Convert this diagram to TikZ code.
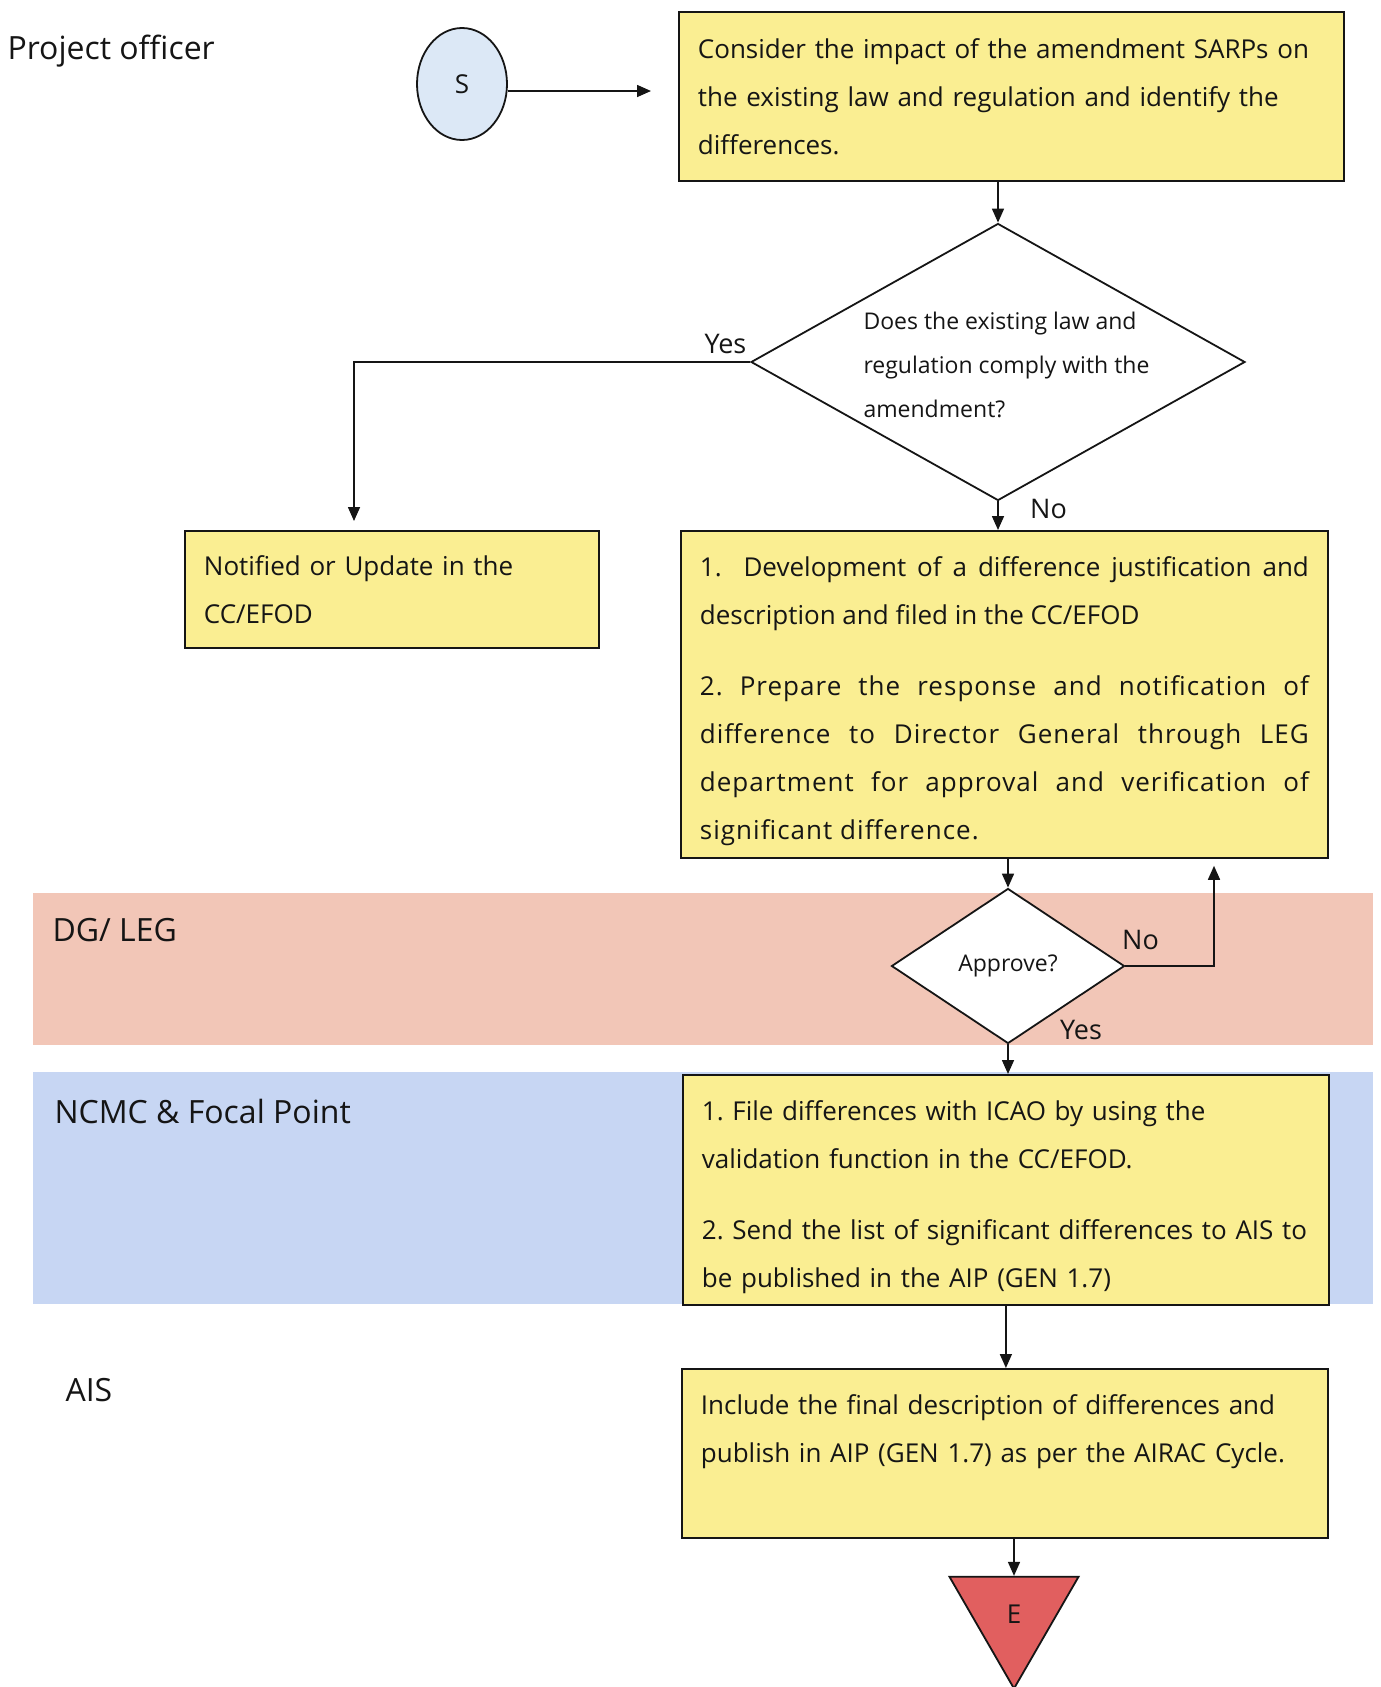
\documentclass[tikz,border=0pt]{standalone}
\usepackage{fontspec}
\setmainfont{Open Sans}
\usetikzlibrary{arrows.meta,positioning,shapes.geometric,calc}
\definecolor{ink}{HTML}{151515}
\definecolor{boxy}{HTML}{FAEE92}
\definecolor{startc}{HTML}{DCE8F6}
\definecolor{dgband}{HTML}{F2C6B7}
\definecolor{ncband}{HTML}{C7D6F3}
\definecolor{endc}{HTML}{E15F5F}
\newcommand{\boxfont}{\fontsize{26}{48}\selectfont\frenchspacing}
\newcommand{\qfont}{\fontsize{23}{44}\selectfont}

\begin{document}
\begin{tikzpicture}[
  x=1pt, y=-1pt, text=ink, >={Triangle[length=14pt,width=12pt]},
  box/.style={draw=ink, line width=1.8pt, fill=boxy, anchor=north west, inner xsep=19pt, inner ysep=0pt, font=\boxfont, align=left},
  decide/.style={diamond, draw=ink, line width=1.8pt, fill=white, inner sep=0pt, font=\qfont},
  flow/.style={->, draw=ink, line width=1.6pt},
  lane/.style={anchor=west, font=\fontsize{32}{36}\selectfont},
  lab/.style={font=\fontsize{27}{30}\selectfont}
]
\useasboundingbox (0,0) rectangle (1381,1687);

% ---- lanes
\fill[dgband] (33,893) rectangle (1373,1045);
\fill[ncband] (33,1072) rectangle (1373,1304);
\node[lane] (lpo) at (4,51) {Project officer};
\node[lane] (ldg) at (49,930) {DG/ LEG};
\node[lane] (lnc) at (51,1111) {NCMC \& Focal Point};
\node[lane] (lais) at (62,1390) {AIS};

% ---- project officer
\node[ellipse, draw=ink, line width=1.8pt, fill=startc, minimum width=90pt, minimum height=112pt, font=\fontsize{26}{28}\selectfont] (s) at (462,84) {S};
\node[box, minimum width=665pt, minimum height=169pt, text width=627pt] (chk) at (678,11)
  {Consider the impact of the amendment SARPs on\\the existing law and regulation and identify the\\differences.};
\node[decide, minimum width=494pt, minimum height=277pt] (q1) at (998,362) {};
\node[font=\qfont, align=left, anchor=west] (q1t) at (860,365)
  {Does the existing law and\\regulation comply with the\\amendment?};
\node[box, minimum width=414pt, minimum height=117pt, text width=376pt] (upd) at (184,530)
  {Notified or Update in the\\CC/EFOD};
\node[box, align=justify, minimum width=647pt, minimum height=327pt, text width=609pt, text height=34pt] (dev) at (680,530)
  {1.\ \ Development of a difference justification and\linebreak description and filed in the CC/EFOD\par\vspace{23pt}{\addfontfeature{LetterSpace=4}2. Prepare the response and notification of\linebreak difference to Director General through LEG\linebreak department for approval and verification of\linebreak significant difference.\par}};

\draw[flow, shorten >=27pt] ([yshift=-7pt]s.east) -- ([yshift=-7pt]s.east -| chk.west);
\draw[flow] (q1.north |- chk.south) -- (q1.north);
\draw[flow, shorten >=9pt] (q1.west) node[lab, anchor=south east, inner sep=3pt, yshift=4pt] (yes1) {Yes} -| ([xshift=170pt]upd.north west);
\draw[flow] (q1.south) -- node[lab, pos=0.25, anchor=west, xshift=28pt] (no1) {No} (q1.south |- dev.north);

% ---- DG / LEG
\node[decide, minimum width=233pt, minimum height=155pt] (q2) at (1008,966) {Approve?};
\draw[flow] (q2.north |- dev.south) -- (q2.north);
\draw[flow, shorten >=7pt] (q2.east) node[lab, anchor=south west, inner sep=2pt, xshift=-6pt, yshift=13pt] (no2) {No} -| ([xshift=534pt]dev.south west);
\node[lab] (yes2) at ($(q2.south)+(73,-14)$) {Yes};

% ---- NCMC & focal point, AIS
\node[box, minimum width=646pt, minimum height=230pt, text width=608pt, text height=34pt] (file) at (682,1074)
  {1. File differences with ICAO by using the\\validation function in the CC/EFOD.\\[23pt]2. Send the list of significant differences to AIS to\\be published in the AIP (GEN 1.7)};
\node[box, minimum width=646pt, minimum height=169pt, text width=608pt, text depth=98pt] (pub) at (681,1368)
  {Include the final description of differences and\\publish in AIP (GEN 1.7) as per the AIRAC Cycle.};
\node[regular polygon, regular polygon sides=3, shape border rotate=180, draw=ink, line width=1.8pt, fill=endc, minimum size=149pt, inner sep=0pt, font=\fontsize{26}{28}\selectfont] (fin) at (1014,1614) {E};

\draw[flow] (q2.south) -- (q2.south |- file.north);
\draw[flow] (file.south) -- (file.south |- pub.north);
\draw[flow] (fin.north |- pub.south) -- (fin.north);
\end{tikzpicture}
\end{document}
